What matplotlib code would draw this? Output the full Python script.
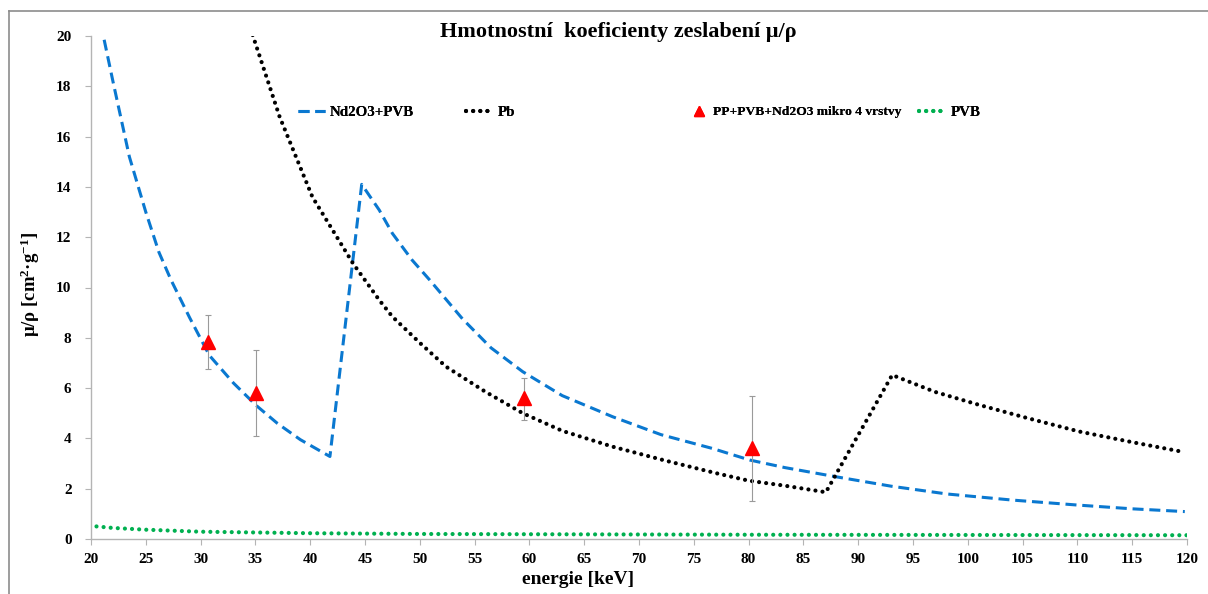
import matplotlib
matplotlib.use("Agg")
import matplotlib.pyplot as plt
from matplotlib.lines import Line2D

plt.rcParams["font.family"] = ["Liberation Serif", "DejaVu Serif"]
plt.rcParams["font.weight"] = "bold"
plt.rcParams["mathtext.fontset"] = "custom"
plt.rcParams["mathtext.rm"] = "Liberation Serif:bold"
plt.rcParams["mathtext.bf"] = "Liberation Serif:bold"
plt.rcParams["mathtext.default"] = "bf"

# Nd2O3+PVB
nd_energy = [21.2, 22, 23.5, 25, 26.2, 27.3, 29, 30.8, 33, 35.1, 37, 39.1, 41.8,
             44.7, 46.3, 47.5, 49.3, 50.9, 53.9, 56.5, 59.4, 63, 67.6, 72, 76.7,
             80.1, 83.3, 87.9, 93, 98.1, 104, 110, 115, 119.8]
nd_mu = [19.85, 18.2, 15.2, 13.0, 11.4, 10.3, 8.8, 7.3, 6.2, 5.3, 4.6, 3.95, 3.28,
         14.1, 13.08, 12.15, 11.09, 10.3, 8.75, 7.6, 6.65, 5.7, 4.86, 4.15, 3.6,
         3.14, 2.84, 2.48, 2.1, 1.79, 1.55, 1.35, 1.2, 1.09]

# Pb
pb_energy = [34.75, 37.2, 40.2, 43.9, 46.3, 47.5, 50, 52.4, 56, 59.4, 63, 67.6,
             72.2, 77, 80, 83.3, 87.05, 93.1, 97, 101.05, 105.5, 110.2, 115, 119.8]
pb_mu = [20.04, 16.8, 13.6, 10.96, 9.5, 8.84, 7.8, 6.85, 5.85, 5.0, 4.3, 3.67,
         3.14, 2.62, 2.32, 2.12, 1.86, 6.52, 5.85, 5.33, 4.8, 4.27, 3.85, 3.45]

# PVB
pvb_energy = [20.5, 22, 25, 30, 35, 40, 50, 60, 70, 80, 90, 100, 110, 120]
pvb_mu = [0.5, 0.44, 0.37, 0.29, 0.26, 0.23, 0.2, 0.19, 0.18, 0.17, 0.165, 0.16, 0.155, 0.15]

# measured PP+PVB+Nd2O3 mikro 4 vrstvy
meas_energy = [30.7, 35.1, 59.5, 80.3]
meas_mu = [7.85, 5.8, 5.6, 3.6]
meas_low = [6.75, 4.1, 4.75, 1.5]
meas_high = [8.9, 7.5, 6.4, 5.7]

BLUE = "#0a78d0"
GREEN = "#00b050"
GRAY = "#b4b4b4"
DOTS = (0, (0.01, 1.7))


def main():
    fig = plt.figure(figsize=(12.08, 5.94), dpi=100)
    ax = fig.add_axes([91 / 1208, 1 - 539 / 594, (1187 - 91) / 1208, (539 - 36) / 594])

    l_nd, = ax.plot(nd_energy, nd_mu, color=BLUE, lw=2.2, dashes=(3.6, 1.9))
    l_pb, = ax.plot(pb_energy, pb_mu, color="black", lw=3.0,
                    linestyle=DOTS, dash_capstyle="round")
    l_pvb, = ax.plot(pvb_energy, pvb_mu, color=GREEN, lw=3.0,
                     linestyle=DOTS, dash_capstyle="round")

    yerr = [[m - lo for m, lo in zip(meas_mu, meas_low)],
            [hi - m for m, hi in zip(meas_mu, meas_high)]]
    ax.errorbar(meas_energy, meas_mu, yerr=yerr, fmt="none", ecolor="#9a9a9a",
                elinewidth=0.8, capsize=2.5, capthick=0.8, zorder=3)
    ax.plot(meas_energy, meas_mu, linestyle="none", marker="^",
            color="red", markersize=10, zorder=4)
    l_meas = Line2D([], [], linestyle="none", marker="^", color="red", markersize=7.5)

    ax.set_xlim(20, 120)
    ax.set_ylim(0, 20)
    ax.set_xticks(range(20, 121, 5))
    ax.set_yticks(range(0, 21, 2))
    for side in ["top", "right"]:
        ax.spines[side].set_visible(False)
    for side in ["left", "bottom"]:
        ax.spines[side].set_color(GRAY)
        ax.spines[side].set_linewidth(1.0)
    ax.tick_params(axis="both", colors=GRAY, labelcolor="black", labelsize=11,
                   length=4, width=0.8, direction="out")
    ax.tick_params(axis="x", pad=6)
    ax.tick_params(axis="y", pad=10)
    for lab in ax.get_xticklabels() + ax.get_yticklabels():
        lab.set_fontweight("bold")

    # legend entries are spread along one row like in the original
    entries = [
        (l_nd, "Nd2O3+PVB", 298, 1.8, 10.8),
        (l_pb, "Pb", 466, 1.8, 10.8),
        (l_meas, "PP+PVB+Nd2O3 mikro 4 vrstvy", 690, 1.2, 9.7),
        (l_pvb, "PVB", 919, 1.8, 10.8),
    ]
    for handle, text, px, hl, fs in entries:
        leg = fig.legend([handle], [text], loc="center left",
                         bbox_to_anchor=(px / 1208, 1 - 112 / 594),
                         frameon=False, borderpad=0, borderaxespad=0,
                         handlelength=hl * 10.8 / fs, handletextpad=0.35,
                         prop={"size": fs, "weight": "bold"})
        fig.add_artist(leg)

    fig.text(618 / 1208, 1 - 32 / 594, "Hmotnostní  koeficienty zeslabení μ/ρ",
             ha="center", va="center", fontsize=16, fontweight="bold")
    fig.text(578 / 1208, 1 - 579 / 594, "energie [keV]", ha="center", va="center",
             fontsize=14, fontweight="bold")
    fig.text(30 / 1208, 1 - 284 / 594, r"μ/ρ [cm$^{2}$·g$^{-1}$]", ha="center",
             va="center", rotation=90, fontsize=13.5, fontweight="bold")

    # outer frame of the chart area (left and top edges visible)
    fig.add_artist(Line2D([9 / 1208, 9 / 1208], [0, 1 - 11 / 594],
                          transform=fig.transFigure, color="#8c8c8c", lw=1.2))
    fig.add_artist(Line2D([9 / 1208, 1], [1 - 11 / 594, 1 - 11 / 594],
                          transform=fig.transFigure, color="#8c8c8c", lw=1.2))

    fig.savefig("out.png", dpi=100)


if __name__ == "__main__":
    main()
